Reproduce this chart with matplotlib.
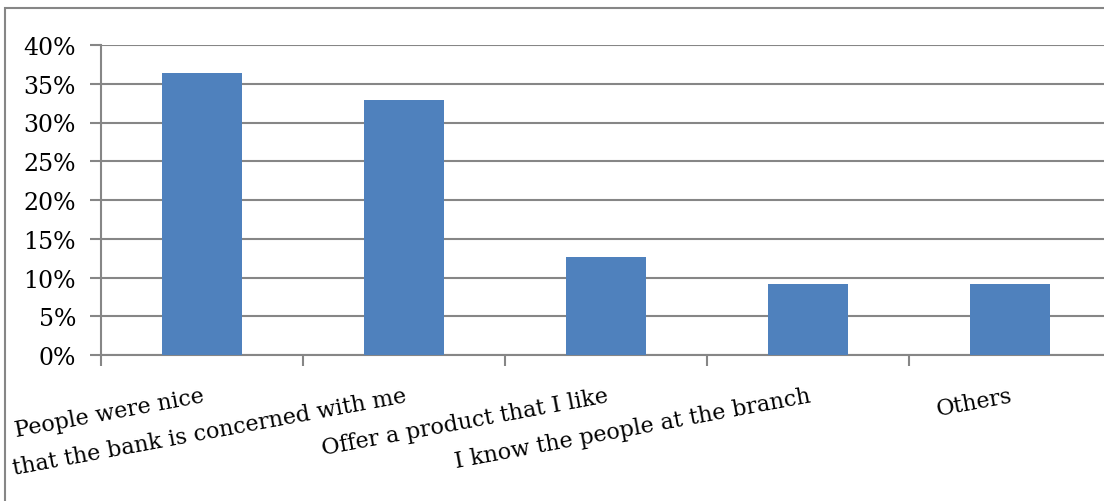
import matplotlib
matplotlib.use("Agg")
import matplotlib.pyplot as plt
from matplotlib.patches import Rectangle
import numpy as np

#chart data
categories = ["People were nice",
              "that the bank is concerned with me",
              "Offer a product that I like",
              "I know the people at the branch",
              "Others"]
shares = [36.4, 32.9, 12.6, 9.1, 9.1]
yticks = [0, 5, 10, 15, 20, 25, 30, 35, 40]

bar_color = "#4F81BD"
grid_color = "#868686"

plt.rcParams['font.family'] = ['DejaVu Serif']

W, H = 1104, 502
fig = plt.figure(figsize=(W / 100, H / 100), dpi=100)
# plot area runs a little past the right edge, like the cropped original
ax = fig.add_axes([101 / W, 1 - 356 / H, 1010 / W, 310 / H])

x = np.arange(len(categories))
ax.bar(x, shares, width=0.4, color=bar_color, zorder=3)

ax.set_xlim(-0.5, len(categories) - 0.5)
ax.set_ylim(0, 40)
ax.set_yticks(yticks)
ax.set_yticklabels([f"{v}%" for v in yticks], fontsize=17)
ax.yaxis.grid(True, color=grid_color, linewidth=1.5, zorder=0)
ax.tick_params(axis='y', length=8, width=1.5, color=grid_color, pad=10)

# category labels centred on bars, boundary ticks as minor ticks
ax.set_xticks(x)
ax.set_xticklabels(categories, fontsize=16, rotation=10.5, ha='right',
                   va='top', rotation_mode='anchor')
ax.tick_params(axis='x', which='major', length=0, pad=21)
ax.set_xticks(np.arange(len(categories) + 1) - 0.5, minor=True)
ax.tick_params(axis='x', which='minor', length=8, width=1.5, color=grid_color)

for s in ['top', 'right']:
    ax.spines[s].set_visible(False)
for s in ['left', 'bottom']:
    ax.spines[s].set_color(grid_color)
    ax.spines[s].set_linewidth(1.5)

# outer chart border
fig.patches.append(Rectangle((5 / W, -0.2), 1.2, 1.2 - 9 / H,
                             transform=fig.transFigure, fill=False,
                             edgecolor=grid_color, linewidth=1.5))

fig.savefig("out.png", dpi=100, facecolor='white')
